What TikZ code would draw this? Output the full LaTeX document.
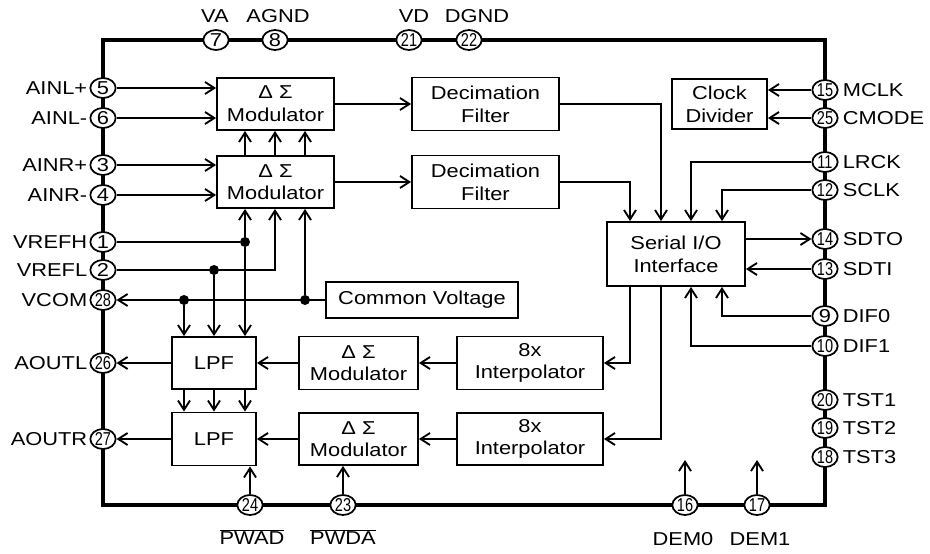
\documentclass[tikz,border=0pt]{standalone}
\usepackage{fontspec}
\setmainfont{Liberation Sans}[FakeStretch=1.17]
\newfontfamily\pinnar{Liberation Sans}[FakeStretch=0.78]
\usetikzlibrary{arrows.meta,shapes.geometric,calc}
\begin{document}
\begin{tikzpicture}[x=0.75pt,y=-0.75pt,
  every node/.style={font=\fontsize{14}{17}\selectfont},
  blk/.style={draw, line width=1.4pt, align=center, inner sep=0pt, fill=white},
  pin/.style={draw, ellipse, fill=white, line width=1.3pt, minimum width=19pt, minimum height=15pt, inner sep=0pt, font=\fontsize{14}{14}\selectfont},
  pinn/.style={pin, font=\fontsize{14}{14}\selectfont\pinnar},
  ln/.style={line width=1.4pt},
  arr/.style={ln, -{Straight Barb[length=7pt,width=9pt,line width=1.4pt]}},
  dot/.style={circle, fill, inner sep=0pt, minimum size=7.5pt},
  lbl/.style={inner sep=1.5pt},
  lblr/.style={inner sep=3pt},
]
\useasboundingbox (0,0) rectangle (930,553);
% package outline
\draw[line width=2.8pt] (103,40) rectangle (825,505);

% left pins
\node[pin] (p5) at (103,88) {5};
\node[pin] (p6) at (103,118) {6};
\node[pin] (p3) at (103,165) {3};
\node[pin] (p4) at (103,195) {4};
\node[pin] (p1) at (103,242) {1};
\node[pin] (p2) at (103,270) {2};
\node[pinn] (p28) at (103,300) {28};
\node[pinn] (p26) at (103,363) {26};
\node[pinn] (p27) at (103,439) {27};
% top pins
\node[pin] (p7) at (216,40) {7};
\node[pin] (p8) at (275,40) {8};
\node[pinn] (p21) at (409,40) {21};
\node[pinn] (p22) at (469,40) {22};
% right pins
\node[pinn] (p15) at (825,90) {15};
\node[pinn] (p25) at (825,118) {25};
\node[pinn] (p11) at (825,162) {11};
\node[pinn] (p12) at (825,190) {12};
\node[pinn] (p14) at (825,239) {14};
\node[pinn] (p13) at (825,269) {13};
\node[pin] (p9) at (825,316) {9};
\node[pinn] (p10) at (825,346) {10};
\node[pinn] (p20) at (825,400) {20};
\node[pinn] (p19) at (825,428) {19};
\node[pinn] (p18) at (825,457) {18};
% bottom pins
\node[pinn] (p24) at (250,505) {24};
\node[pinn] (p23) at (343,505) {23};
\node[pinn] (p16) at (685,505) {16};
\node[pinn] (p17) at (757,505) {17};

% pin labels
\node[lbl, anchor=east] (t5) at (p5.west) {AINL+};
\node[lbl, anchor=east] (t6) at (p6.west) {AINL-};
\node[lbl, anchor=east] (t3) at (p3.west) {AINR+};
\node[lbl, anchor=east] (t4) at (p4.west) {AINR-};
\node[lbl, anchor=east] (t1) at (p1.west) {VREFH};
\node[lbl, anchor=east] (t2) at (p2.west) {VREFL};
\node[lbl, anchor=east] (t28) at (p28.west) {VCOM};
\node[lbl, anchor=east] (t26) at (p26.west) {AOUTL};
\node[lbl, anchor=east] (t27) at (p27.west) {AOUTR};
\node (t7) at (215,16) {VA};
\node (t8) at (278,16) {AGND};
\node (t21) at (414,16) {VD};
\node (t22) at (477,16) {DGND};
\node[lblr, anchor=west] (t15) at (p15.east) {MCLK};
\node[lblr, anchor=west] (t25) at (p25.east) {CMODE};
\node[lblr, anchor=west] (t11) at (p11.east) {LRCK};
\node[lblr, anchor=west] (t12) at (p12.east) {SCLK};
\node[lblr, anchor=west] (t14) at (p14.east) {SDTO};
\node[lblr, anchor=west] (t13) at (p13.east) {SDTI};
\node[lblr, anchor=west] (t9) at (p9.east) {DIF0};
\node[lblr, anchor=west] (t10) at (p10.east) {DIF1};
\node[lblr, anchor=west] (t20) at (p20.east) {TST1};
\node[lblr, anchor=west] (t19) at (p19.east) {TST2};
\node[lblr, anchor=west] (t18) at (p18.east) {TST3};
\node (t24) at (252,537) {$\overline{\mbox{PWAD}}$};
\node (t23) at (343,537) {$\overline{\mbox{PWDA}}$};
\node (t16) at (683,539) {DEM0};
\node (t17) at (760,539) {DEM1};

% blocks
\node[blk, minimum width=87.75pt, minimum height=39pt] (mA) at (275.5,104) {Δ Σ\\Modulator};
\node[blk, minimum width=87.75pt, minimum height=39pt] (mB) at (275.5,182) {Δ Σ\\Modulator};
\node[blk, minimum width=110.25pt, minimum height=39.75pt] (dA) at (485.5,104) {Decimation\\Filter};
\node[blk, minimum width=110.25pt, minimum height=39.75pt] (dB) at (485.5,182) {Decimation\\Filter};
\node[blk, minimum width=71.25pt, minimum height=37.5pt] (cd) at (719.5,104) {Clock\\Divider};
\node[blk, minimum width=103.5pt, minimum height=48pt] (sio) at (676,254) {Serial I/O\\Interface};
\node[blk, minimum width=144pt, minimum height=27pt] (cv) at (422,300) {Common Voltage};
\node[blk, minimum width=63pt, minimum height=39pt] (lA) at (214,363) {LPF};
\node[blk, minimum width=63pt, minimum height=39.75pt] (lB) at (214,439) {LPF};
\node[blk, minimum width=89.25pt, minimum height=39.75pt] (dm1) at (358.5,363) {Δ Σ\\Modulator};
\node[blk, minimum width=89.25pt, minimum height=39pt] (dm2) at (358.5,439) {Δ Σ\\Modulator};
\node[blk, minimum width=109.5pt, minimum height=39.75pt] (i1) at (530,363) {8x\\Interpolator};
\node[blk, minimum width=109.5pt, minimum height=39pt] (i2) at (530,439) {8x\\Interpolator};

% junction dots and helper columns
\node[dot] (dH) at (245,242) {};
\node[dot] (dL) at (214,270) {};
\node[dot] (dV1) at (305,300) {};
\node[dot] (dV2) at (184,300) {};
\coordinate (cL) at (275,0);
\coordinate (k1) at (661,0);
\coordinate (k2) at (630,0);
\coordinate (k3) at (691,0);
\coordinate (k4) at (722,0);
\coordinate (e16) at (685,460);
\coordinate (e17) at (757,460);

% ADC inputs
\draw[arr] (p5) -- (p5 -| mA.west);
\draw[arr] (p6) -- (p6 -| mA.west);
\draw[arr] (p3) -- (p3 -| mB.west);
\draw[arr] (p4) -- (p4 -| mB.west);
\draw[arr] (mA) -- (dA);
\draw[arr] (mB) -- (dB);
% modulator B to A
\draw[arr] (dH |- mB.north) -- (dH |- mA.south);
\draw[arr] (cL |- mB.north) -- (cL |- mA.south);
\draw[arr] (dV1 |- mB.north) -- (dV1 |- mA.south);
% references
\draw[ln] (p1) -- (dH);
\draw[arr] (dH) -- (dH |- mB.south);
\draw[arr] (dH) -- (dH |- lA.north);
\draw[ln] (p2) -- (dL);
\draw[arr] (dL) -| (cL |- mB.south);
\draw[arr] (dL) -- (dL |- lA.north);
\draw[arr] (cv) -- (p28);
\draw[arr] (dV1) -- (dV1 |- mB.south);
\draw[arr] (dV2) -- (dV2 |- lA.north);
% LPF A to B
\draw[arr] (dV2 |- lA.south) -- (dV2 |- lB.north);
\draw[arr] (dL |- lA.south) -- (dL |- lB.north);
\draw[arr] (dH |- lA.south) -- (dH |- lB.north);
% DAC chain
\draw[arr] (lA) -- (p26);
\draw[arr] (lB) -- (p27);
\draw[arr] (dm1) -- (lA);
\draw[arr] (dm2) -- (lB);
\draw[arr] (i1) -- (dm1);
\draw[arr] (i2) -- (dm2);
\draw[arr] (p24) -- (p24 |- lB.south);
\draw[arr] (p23) -- (p23 |- dm2.south);
\draw[arr] (p16) -- (e16);
\draw[arr] (p17) -- (e17);
% clock
\draw[arr] (p15) -- (p15 -| cd.east);
\draw[arr] (p25) -- (p25 -| cd.east);
% serial interface
\draw[arr] (dA.east) -| (k1 |- sio.north);
\draw[arr] (dB.east) -| (k2 |- sio.north);
\draw[arr] (p11) -| (k3 |- sio.north);
\draw[arr] (p12) -| (k4 |- sio.north);
\draw[arr] (sio.east |- p14) -- (p14);
\draw[arr] (p13) -- (p13 -| sio.east);
\draw[arr] (p9) -| (k4 |- sio.south);
\draw[arr] (p10) -| (k3 |- sio.south);
\draw[arr] (k2 |- sio.south) |- (i1.east);
\draw[arr] (k1 |- sio.south) |- (i2.east);
\end{tikzpicture}
\end{document}
